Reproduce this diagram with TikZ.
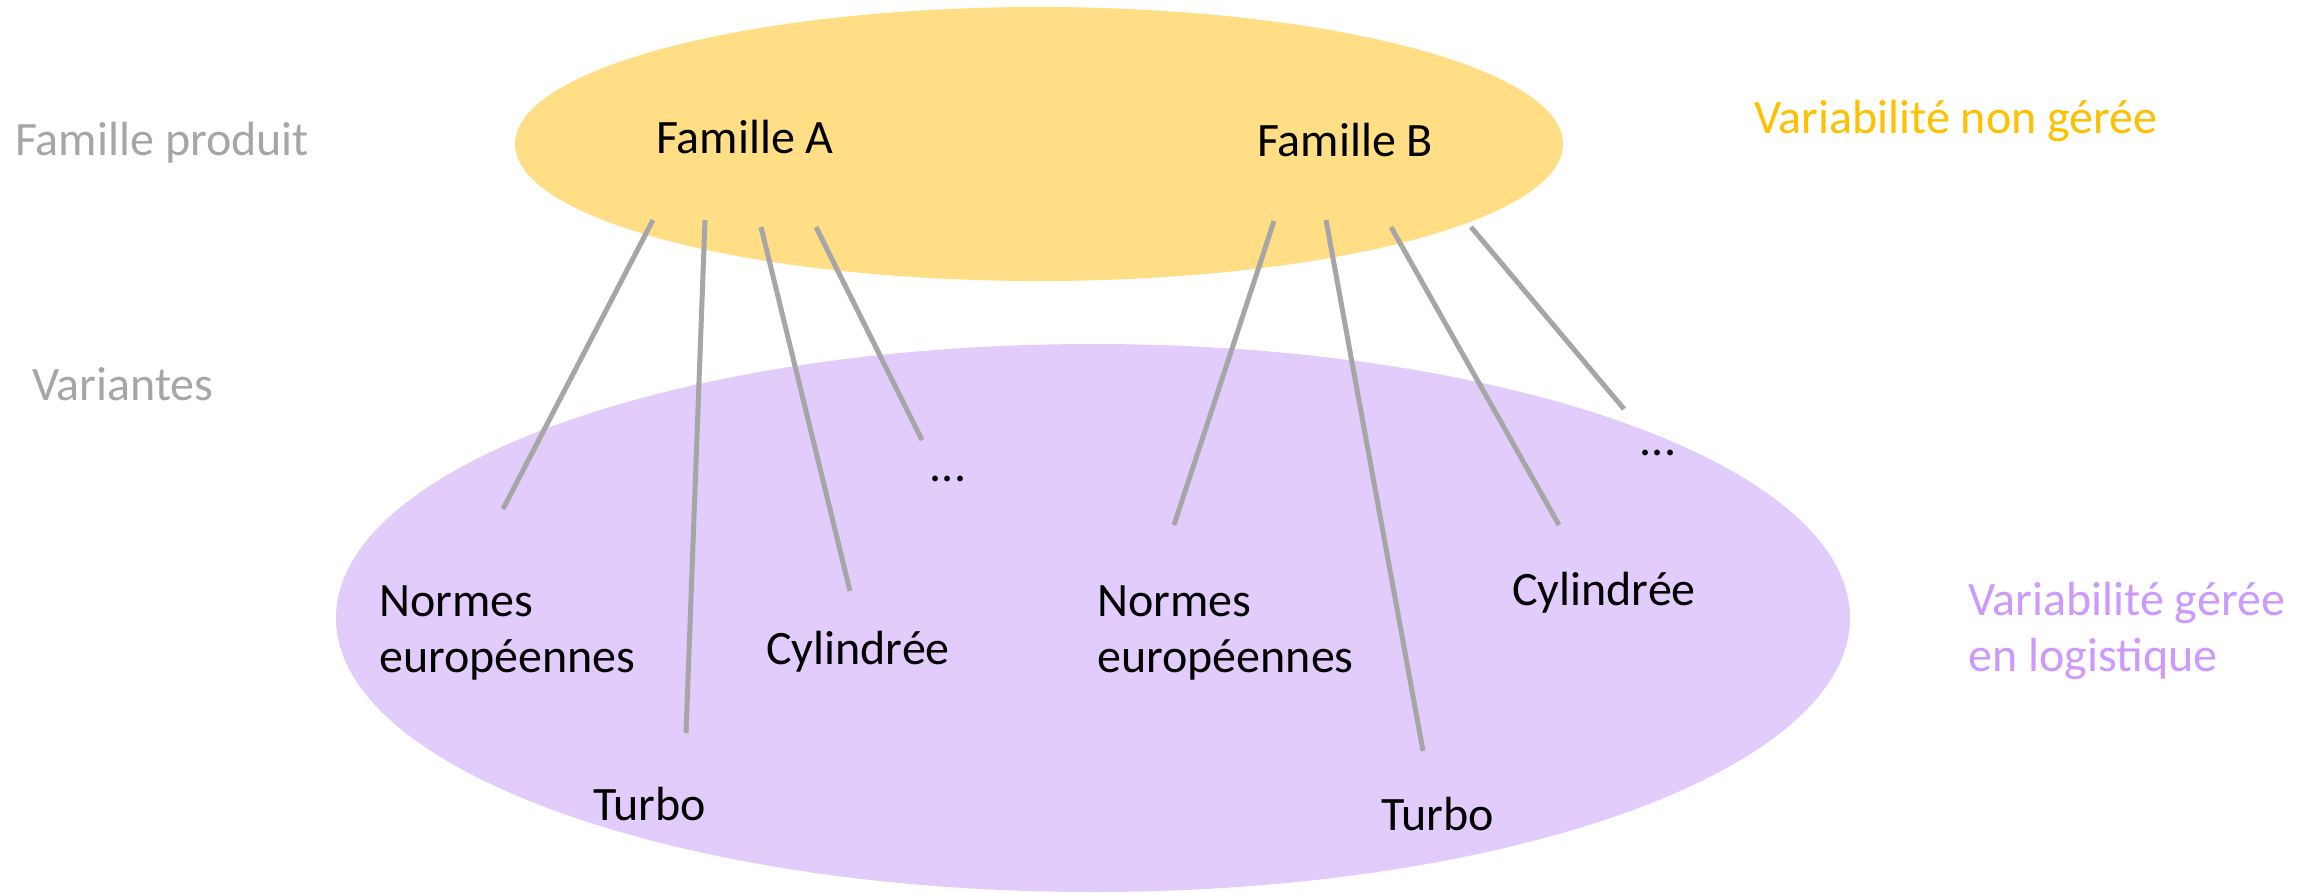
\documentclass[tikz,border=0pt]{standalone}
\usepackage{fontspec}
\setmainfont{Carlito}
\definecolor{famyellow}{HTML}{FFDE85}
\definecolor{varpurple}{HTML}{E2CCFC}
\definecolor{linegray}{HTML}{A6A6A6}
\definecolor{labgray}{HTML}{A6A6A6}
\definecolor{labyellow}{HTML}{FFC000}
\definecolor{labpurple}{HTML}{CC99FF}
\tikzset{
  txt/.style={inner sep=0pt, font=\fontsize{48}{56}\selectfont, text=black},
  ltxt/.style={txt, anchor=west, align=left},
  link/.style={draw=linegray, line width=5pt},
}
\begin{document}
\begin{tikzpicture}[x=1pt,y=-1pt]
\useasboundingbox (0,0) rectangle (2313,892);
% ellipses
\fill[varpurple] (1093,618) ellipse [x radius=757, y radius=274];
\fill[famyellow] (1039,144) ellipse [x radius=524, y radius=137];
% side labels
\node[ltxt, text=labgray] (famprod) at (15,143) {Famille produit};
\node[ltxt, text=labgray] (variantes) at (32,384) {Variantes};
\node[ltxt, text=labyellow] (nongeree) at (1754,121) {Variabilité non gérée};
\node[ltxt, text=labpurple] (geree) at (1968,631) {Variabilité gérée\\en logistique};
% family labels
\node[txt] (famA) at (745,137) {Famille A};
\node[txt] (famB) at (1345,140) {Famille B};
% variant labels
\node[ltxt] (normA) at (379,633) {Normes\\européennes};
\node[ltxt] (cylA) at (766,652) {Cylindrée};
\node[ltxt] (turboA) at (593,804) {Turbo};
\node[txt] (dotsA) at (948,479) {...};
\node[ltxt] (normB) at (1097,633) {Normes\\européennes};
\node[ltxt] (cylB) at (1512,593) {Cylindrée};
\node[ltxt] (turboB) at (1381,814) {Turbo};
\node[txt] (dotsB) at (1658,453) {...};
% connector end points
\coordinate (a1s) at (653,220); \coordinate (a1e) at (503,509);
\coordinate (a2s) at (705,220); \coordinate (a2e) at (686,733);
\coordinate (a3s) at (761,227); \coordinate (a3e) at (850,591);
\coordinate (a4s) at (816,227); \coordinate (a4e) at (922,440);
\coordinate (b1s) at (1274,221); \coordinate (b1e) at (1174,525);
\coordinate (b2s) at (1326,220); \coordinate (b2e) at (1423,751);
\coordinate (b3s) at (1391,227); \coordinate (b3e) at (1559,525);
\coordinate (b4s) at (1471,227); \coordinate (b4e) at (1624,409);
\draw[link] (a1s) -- (a1e);
\draw[link] (a2s) -- (a2e);
\draw[link] (a3s) -- (a3e);
\draw[link] (a4s) -- (a4e);
\draw[link] (b1s) -- (b1e);
\draw[link] (b2s) -- (b2e);
\draw[link] (b3s) -- (b3e);
\draw[link] (b4s) -- (b4e);
\end{tikzpicture}
\end{document}
